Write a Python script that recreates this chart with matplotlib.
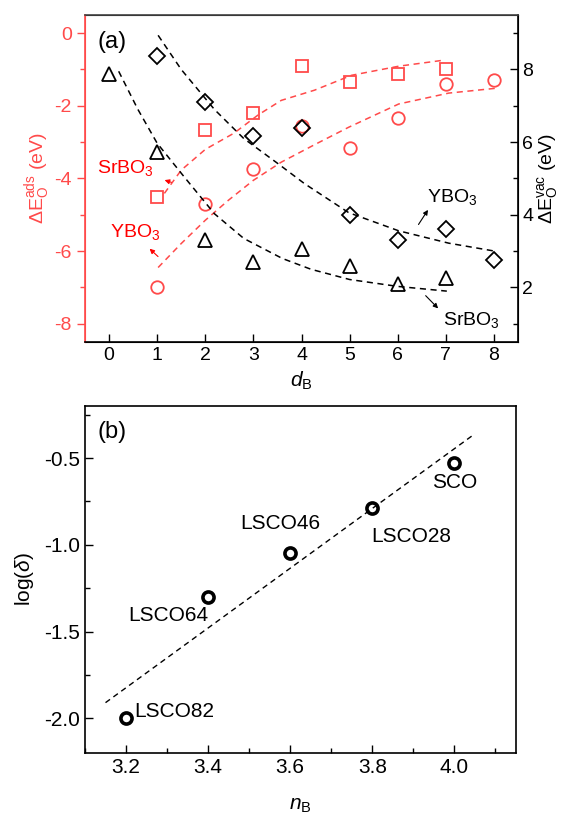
import numpy as np
import matplotlib.pyplot as plt
from matplotlib.ticker import MultipleLocator

plt.rcParams['font.family'] = ['Liberation Sans', 'DejaVu Sans']
plt.rcParams['mathtext.fontset'] = 'custom'
plt.rcParams['mathtext.rm'] = 'Liberation Sans'
plt.rcParams['mathtext.it'] = 'Liberation Sans:italic'
plt.rcParams['mathtext.bf'] = 'Liberation Sans:bold'
plt.rcParams['axes.unicode_minus'] = False

RED = '#ff4a4a'

# ---- panel (a) data ----
d_sq = [1, 2, 3, 4, 5, 6, 7]
ads_sr = [-4.5, -2.67, -2.2, -0.91, -1.35, -1.13, -1.0]
d_ci = [1, 2, 3, 4, 5, 6, 7, 8]
ads_y = [-7.0, -4.7, -3.75, -2.55, -3.15, -2.33, -1.4, -1.3]
d_di = [1, 2, 3, 4, 5, 6, 7, 8]
vac_y = [8.36, 7.11, 6.17, 6.4, 4.0, 3.3, 3.6, 2.75]
d_tr = [0, 1, 2, 3, 4, 5, 6, 7]
vac_sr = [7.87, 5.72, 3.3, 2.7, 3.06, 2.6, 2.1, 2.25]

# dashed guide curves
fit_ads_sr_x = [1.15, 1.5, 2.0, 2.6, 3.1, 3.58, 4.27, 5.04, 6.02, 6.98]
fit_ads_sr_y = [-4.41, -3.77, -3.2, -2.75, -2.25, -1.85, -1.57, -1.16, -0.91, -0.74]
fit_ads_y_x = [1.02, 1.5, 2.0, 2.48, 3.0, 3.58, 4.3, 4.98, 6.02, 7.06, 8.02]
fit_ads_y_y = [-6.45, -5.79, -5.15, -4.6, -4.05, -3.55, -3.05, -2.59, -1.95, -1.65, -1.52]
fit_vac_sr_x = [0.2, 0.6, 1.0, 1.54, 2.19, 2.8, 3.6, 4.2, 5.0, 6.0, 7.02]
fit_vac_sr_y = [7.95, 6.9, 5.97, 5.08, 4.03, 3.35, 2.8, 2.5, 2.22, 2.03, 1.9]
fit_vac_y_x = [1.02, 1.5, 2.19, 2.8, 3.52, 4.06, 4.98, 6.02, 7.06, 8.02]
fit_vac_y_y = [8.94, 8.0, 6.9, 6.1, 5.4, 4.86, 4.06, 3.56, 3.22, 3.0]

# ---- panel (b) data ----
n_b = [3.2, 3.4, 3.6, 3.8, 4.0]
log_delta = [-2.0, -1.3, -1.05, -0.79, -0.53]
names = ['LSCO82', 'LSCO64', 'LSCO46', 'LSCO28', 'SCO']
fit_b_x = [3.15, 4.05]
fit_b_y = [-1.91, -0.36]

fig = plt.figure(figsize=(5.61, 8.18), dpi=100)

# =================== (a) ===================
ax1 = fig.add_axes([0.1515, 0.5819, 0.7719, 0.3998])
ax2 = ax1.twinx()

ax1.plot(d_sq, ads_sr, 's', ms=8, mfc='none', mec=RED, mew=1.3)
ax1.plot(d_ci, ads_y, 'o', ms=9, mfc='none', mec=RED, mew=1.3)
ax1.plot(fit_ads_sr_x, fit_ads_sr_y, '--', color=RED, lw=1.1, dashes=(4, 3))
ax1.plot(fit_ads_y_x, fit_ads_y_y, '--', color=RED, lw=1.1, dashes=(4, 3))

ax2.plot(d_di, vac_y, 'D', ms=8, mfc='none', mec='black', mew=1.3)
ax2.plot(d_tr, vac_sr, '^', ms=10, mfc='none', mec='black', mew=1.3)
ax2.plot(fit_vac_sr_x, fit_vac_sr_y, '--', color='black', lw=1.1, dashes=(4, 3))
ax2.plot(fit_vac_y_x, fit_vac_y_y, '--', color='black', lw=1.1, dashes=(4, 3))

ax1.set_xlim(-0.5, 8.5)
ax1.set_ylim(-8.5, 0.5)
ax2.set_ylim(0.5, 9.5)
ax1.set_xticks(range(0, 9))
ax1.yaxis.set_major_locator(MultipleLocator(2))
ax1.yaxis.set_minor_locator(MultipleLocator(1))
ax2.yaxis.set_major_locator(MultipleLocator(2))
ax2.yaxis.set_minor_locator(MultipleLocator(1))

ax1.tick_params(axis='y', which='both', direction='out', colors=RED, labelsize=14)
ax1.tick_params(axis='y', which='major', length=6, width=1)
ax1.tick_params(axis='y', which='minor', length=3.5, width=1)
ax1.tick_params(axis='x', direction='in', length=6, width=1, labelsize=14)
ax2.tick_params(axis='y', which='both', direction='in', labelsize=14, pad=3)
ax2.tick_params(axis='y', which='major', length=6, width=1)
ax2.tick_params(axis='y', which='minor', length=3.5, width=1)

ax2.spines['left'].set_color(RED)
ax1.spines['left'].set_color(RED)
ax2.spines['top'].set_color('#444444')
for sp in ax2.spines.values():
    sp.set_linewidth(1.2)

ax1.set_xlabel('$d_\\mathrm{B}$', fontsize=15, labelpad=4)
ax1.set_ylabel('$\\mathrm{\\Delta E}_\\mathrm{O}^\\mathrm{ads}$ (eV)', color=RED, fontsize=14, labelpad=2)
ax2.set_ylabel('$\\mathrm{\\Delta E}_\\mathrm{O}^\\mathrm{vac}$ (eV)', fontsize=14, labelpad=1)

ax1.text(-0.25, -0.24, '(a)', fontsize=17, va='center', ha='left')

ax1.text(-0.25, -3.71, 'SrBO$_3$', color='red', fontsize=14, va='center', ha='left')
ax1.annotate('', xy=(1.1, -4.02), xytext=(1.35, -4.13),
             arrowprops=dict(arrowstyle='-|>', color='red', lw=0.8, mutation_scale=7))
ax1.text(0.02, -5.48, 'YBO$_3$', color='red', fontsize=14, va='center', ha='left')
ax1.annotate('', xy=(0.8, -5.88), xytext=(1.06, -6.2),
             arrowprops=dict(arrowstyle='-|>', color='red', lw=0.8, mutation_scale=7))

ax2.text(6.6, 4.5, 'YBO$_3$', color='black', fontsize=14, va='center', ha='left')
ax2.annotate('', xy=(6.66, 4.2), xytext=(6.4, 3.67),
             arrowprops=dict(arrowstyle='-|>', color='black', lw=0.8, mutation_scale=7))
ax2.text(6.94, 1.11, 'SrBO$_3$', color='black', fontsize=14, va='center', ha='left')
ax2.annotate('', xy=(6.88, 1.37), xytext=(6.54, 1.83),
             arrowprops=dict(arrowstyle='-|>', color='black', lw=0.8, mutation_scale=7))

# =================== (b) ===================
axb = fig.add_axes([0.1515, 0.0795, 0.7683, 0.4242])
axb.plot(fit_b_x, fit_b_y, '--', color='black', lw=1.0, dashes=(4, 3))
axb.plot(n_b, log_delta, 'o', ms=8, mfc='none', mec='black', mew=2.6)

axb.set_xlim(3.1, 4.15)
axb.set_ylim(-2.2, -0.2)
axb.xaxis.set_major_locator(MultipleLocator(0.2))
axb.xaxis.set_minor_locator(MultipleLocator(0.1))
axb.yaxis.set_major_locator(MultipleLocator(0.5))
axb.yaxis.set_minor_locator(MultipleLocator(0.25))
axb.tick_params(which='both', direction='in', labelsize=15, width=1)
axb.tick_params(which='major', length=6)
axb.tick_params(which='minor', length=3.5)
for sp in axb.spines.values():
    sp.set_linewidth(1.2)

axb.set_xlabel('$n_\\mathrm{B}$', fontsize=15, labelpad=14)
axb.set_ylabel('log($\\delta$)', fontsize=15, labelpad=6)
axb.text(3.13, -0.35, '(b)', fontsize=17, va='center', ha='left')

label_pos = [(3.22, -1.96, 'left'), (3.4, -1.41, 'right'), (3.478, -0.88, 'left'),
             (3.797, -0.95, 'left'), (4.0, -0.64, 'center')]
for name, (tx, ty, ha) in zip(names, label_pos):
    axb.text(tx, ty, name, fontsize=15, va='center', ha=ha)

fig.savefig('out.png', dpi=100)
